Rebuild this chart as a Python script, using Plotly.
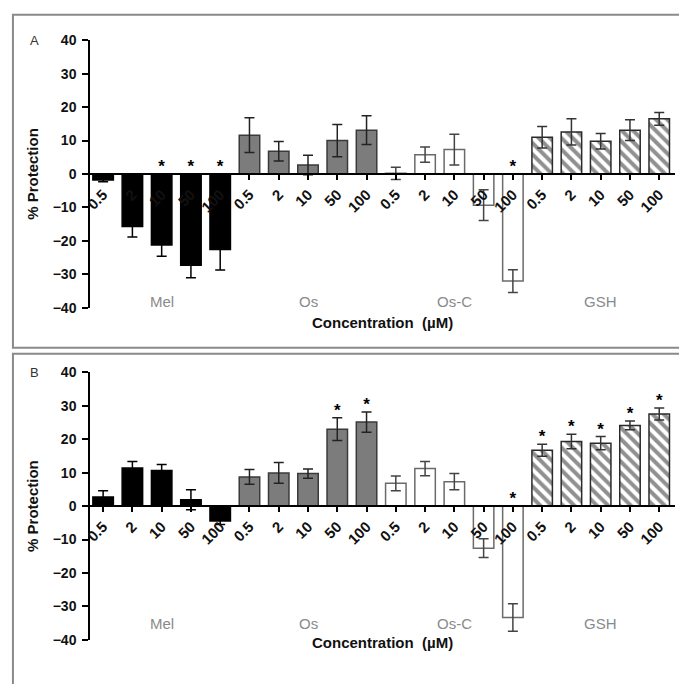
import plotly.graph_objects as go

# ---------------- data ----------------
groups = ["Mel", "Os", "Os-C", "GSH"]
conc_labels = ["0.5", "2", "10", "50", "100"]

# Panel A
a_mel = [-1.8, -15.7, -21.2, -27.3, -22.6]
a_mel_err = [0.5, 3.1, 3.4, 3.7, 6.1]
a_os = [11.6, 6.8, 2.7, 10.0, 13.1]
a_os_err = [5.2, 2.9, 2.9, 4.8, 4.3]
a_osc = [0.2, 5.8, 7.3, -9.3, -32.0]
a_osc_err = [1.8, 2.3, 4.6, 4.6, 3.4]
a_gsh = [11.0, 12.6, 9.8, 13.1, 16.5]
a_gsh_err = [3.2, 3.9, 2.3, 3.1, 1.9]
a_stars = [0, 0, 1, 1, 1,  0, 0, 0, 0, 0,  0, 0, 0, 0, 1,  0, 0, 0, 0, 0]

# Panel B
b_mel = [2.7, 11.4, 10.6, 1.9, -4.5]
b_mel_err = [1.9, 1.9, 1.8, 3.0, 1.0]
b_os = [8.7, 9.9, 9.7, 23.0, 25.1]
b_os_err = [2.2, 3.1, 1.4, 3.4, 3.0]
b_osc = [6.8, 11.2, 7.3, -12.6, -33.3]
b_osc_err = [2.2, 2.1, 2.4, 2.8, 4.1]
b_gsh = [16.7, 19.3, 18.8, 24.1, 27.5]
b_gsh_err = [1.8, 2.2, 2.0, 1.3, 1.8]
b_stars = [0, 0, 0, 0, 0,  0, 0, 0, 1, 1,  0, 0, 0, 0, 1,  1, 1, 1, 1, 1]

y_ticks = [40, 30, 20, 10, 0, -10, -20, -30, -40]

# ---------------- styling ----------------
W, H = 679, 684
FONT = "Arial, Liberation Sans, sans-serif"

def py(p):
    return 1 - p / H

def px(p):
    return p / W

styles = {
    "Mel": dict(marker=dict(color="#000000", line=dict(color="#000000", width=1.5)), ecol="#000000"),
    "Os": dict(marker=dict(color="#7c7c7c", line=dict(color="#3a3a3a", width=1.5)), ecol="#222222"),
    "Os-C": dict(marker=dict(color="#ffffff", line=dict(color="#6a6a6a", width=1.5)), ecol="#444444"),
    "GSH": dict(marker=dict(color="#ffffff", line=dict(color="#2a2a2a", width=1.5),
                            pattern=dict(shape="\\", fgcolor="#222222", bgcolor="#ffffff",
                                         size=8, solidity=0.5)), ecol="#333333"),
}

panels = [
    ("x", "y", [a_mel, a_os, a_osc, a_gsh], [a_mel_err, a_os_err, a_osc_err, a_gsh_err], a_stars),
    ("x2", "y2", [b_mel, b_os, b_osc, b_gsh], [b_mel_err, b_os_err, b_osc_err, b_gsh_err], b_stars),
]

fig = go.Figure()
for xa, ya, vals, errs, stars in panels:
    allv, alle = [], []
    for gi, g in enumerate(groups):
        xs = [gi * 5 + k for k in range(5)]
        st = styles[g]
        fig.add_trace(go.Bar(
            x=xs, y=vals[gi], xaxis=xa, yaxis=ya, width=0.7,
            marker=st["marker"],
            error_y=dict(type="data", array=errs[gi], visible=True,
                         color=st["ecol"], thickness=1.5, width=5),
            showlegend=False,
        ))
        allv += vals[gi]
        alle += errs[gi]
    sx, sy = [], []
    for i, s in enumerate(stars):
        if s:
            top = max(allv[i] + alle[i], 0)
            sx.append(i)
            sy.append(top + 1.8)
    fig.add_trace(go.Scatter(
        x=sx, y=sy, xaxis=xa, yaxis=ya, mode="text", text=["*"] * len(sx),
        textposition="middle center",
        textfont=dict(family=FONT, size=17, color="#000000", weight="bold"),
        showlegend=False, hoverinfo="skip",
    ))

x_dom = [px(85), px(675)]
y_dom_a = [py(307), py(33)]
y_dom_b = [py(647), py(373)]
tickvals = list(range(20))
ticktext = conc_labels * 4

def xaxis_cfg(ydom):
    return dict(
        domain=x_dom, range=[-0.44, 19.54], anchor="free",
        position=(ydom[0] + ydom[1]) / 2,
        tickmode="array", tickvals=tickvals, ticktext=ticktext, tickangle=-45,
        ticks="outside", ticklen=5, tickwidth=1.5, tickcolor="#000",
        showline=True, linecolor="#000", linewidth=2,
        showgrid=False, zeroline=False,
        tickfont=dict(family=FONT, size=15, color="#111", weight="bold"),
    )

def yaxis_cfg(ydom, anchor_x):
    return dict(
        domain=ydom, range=[-40, 40], anchor=anchor_x,
        tickmode="array", tickvals=y_ticks, ticks="outside", ticklen=6,
        tickwidth=1.5, tickcolor="#000", ticklabelstandoff=3,
        showline=True, linecolor="#000", linewidth=2,
        showgrid=False, zeroline=False,
        tickfont=dict(family=FONT, size=14, color="#111", weight="bold"),
        title=dict(text="% Protection", standoff=10,
                   font=dict(family=FONT, size=15, color="#111", weight="bold")),
    )

fig.update_layout(
    width=W, height=H, margin=dict(l=0, r=0, t=0, b=0),
    paper_bgcolor="#ffffff", plot_bgcolor="rgba(0,0,0,0)",
    bargap=0.3,
    xaxis=xaxis_cfg(y_dom_a),
    yaxis=yaxis_cfg(y_dom_a, "x"),
    xaxis2=xaxis_cfg(y_dom_b),
    yaxis2=yaxis_cfg(y_dom_b, "x2"),
)

# panel borders
fig.add_shape(type="rect", xref="paper", yref="paper", x0=px(7), x1=1.05,
              y0=py(348), y1=py(7), line=dict(color="#8a8a8a", width=2))
fig.add_shape(type="rect", xref="paper", yref="paper", x0=px(7), x1=1.05,
              y0=-0.05, y1=py(354), line=dict(color="#8a8a8a", width=2))

annotations = []
for lab, ycen in [("A", 24), ("B", 373)]:
    annotations.append(dict(text=lab, xref="paper", yref="paper", x=px(22), y=py(ycen),
                            showarrow=False, font=dict(family=FONT, size=13, color="#333")))
for xa, ya, gy, cy in [("x", "y", -38.0, py(322)), ("x2", "y2", -35.0, py(660))]:
    for gi, g in enumerate(groups):
        annotations.append(dict(text=g, xref=xa, yref=ya, x=gi * 5 + 2, y=gy,
                                showarrow=False,
                                font=dict(family=FONT, size=15, color="#8a8a8a")))
    annotations.append(dict(text="Concentration  (µM)", xref="paper", yref="paper",
                            x=px(380), y=cy, showarrow=False,
                            font=dict(family=FONT, size=15, color="#111", weight="bold")))
fig.update_layout(annotations=annotations)

fig.write_html("out.html", config={"displayModeBar": False},
               post_script="document.body.style.margin='0';")
